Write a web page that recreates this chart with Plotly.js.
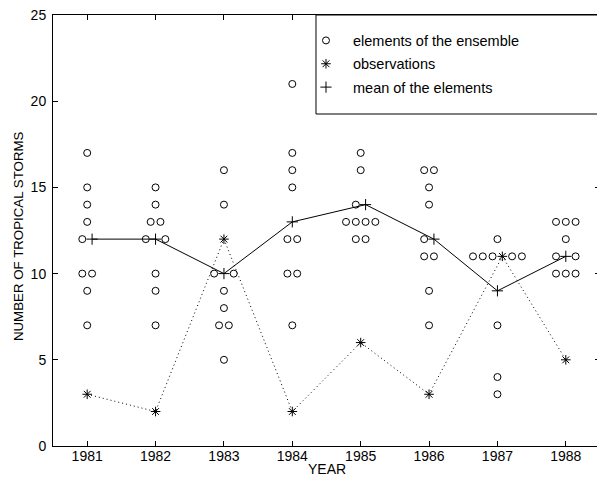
<!DOCTYPE html>
<html>
<head>
<meta charset="utf-8">
<script src="https://cdn.plot.ly/plotly-3.0.1.min.js"></script>
<style>
  html, body { margin: 0; padding: 0; overflow: hidden; background: #fff; }
  #chart { width: 601px; height: 478px; }
</style>
</head>
<body>
<div id="chart"></div>
<script>
// Seasonal tropical storm counts, 1981-1988: ensemble members, observed counts and ensemble mean
const years = [1981, 1982, 1983, 1984, 1985, 1986, 1987, 1988];

const members1981 = [17, 15, 14, 13, 12, 10, 10, 9, 7];
const members1982 = [15, 14, 13, 13, 12, 12, 10, 9, 7];
const members1983 = [16, 14, 10, 10, 9, 8, 7, 7, 5];
const members1984 = [21, 17, 16, 15, 12, 12, 10, 10, 7];
const members1985 = [17, 16, 14, 13, 13, 13, 13, 12, 12];
const members1986 = [16, 16, 15, 14, 12, 11, 11, 9, 7];
const members1987 = [12, 11, 11, 11, 11, 11, 7, 4, 3];
const members1988 = [13, 13, 13, 12, 11, 11, 10, 10, 10];

const observed = [3, 2, 12, 2, 6, 3, 11, 5];
const ensembleMean = [12, 12, 10, 13, 14, 12, 9, 11];

const yTicks = [0, 5, 10, 15, 20, 25];

// ---------------------------------------------------------------------------
// Symbols sharing the same count in the same year are set side by side,
// centred on the year; a mean or observation symbol takes the middle slot.
const members = [members1981, members1982, members1983, members1984,
                 members1985, members1986, members1987, members1988];
const SLOT = 0.143;   // horizontal spacing between neighbouring symbols (years)

const memX = [], memY = [];
const obsX = [], meanX = [];

years.forEach((yr, i) => {
  const levels = Array.from(new Set(members[i].concat([observed[i], ensembleMean[i]])));
  levels.forEach(v => {
    const nCirc = members[i].filter(m => m === v).length;
    const marks = [];
    if (ensembleMean[i] === v) marks.push('mean');
    if (observed[i] === v) marks.push('obs');
    const n = nCirc + marks.length;
    const slots = [];
    for (let k = 0; k < nCirc; k++) slots.push('member');
    slots.splice(Math.floor(n / 2), 0, ...marks);
    slots.forEach((kind, k) => {
      const x = yr + (k - (n - 1) / 2) * SLOT;
      if (kind === 'member') { memX.push(x); memY.push(v); }
      else if (kind === 'mean') meanX[i] = x;
      else obsX[i] = x;
    });
  });
});

const FONT = '"Liberation Sans", Arial, Helvetica, sans-serif';

const traces = [
  {
    x: memX, y: memY, mode: 'markers', type: 'scatter',
    name: 'elements of the ensemble', legendgroup: 'a',
    marker: { symbol: 'circle-open', size: 7, color: '#000', line: { width: 1, color: '#000' } },
    hoverinfo: 'skip'
  },
  {
    x: obsX, y: observed, mode: 'lines', type: 'scatter', showlegend: false,
    line: { color: '#000', width: 1, dash: '1px,3px' }, hoverinfo: 'skip'
  },
  {
    x: obsX, y: observed, mode: 'markers', type: 'scatter',
    name: 'observations', legendgroup: 'b',
    marker: { symbol: 'asterisk-open', size: 8, color: '#000', line: { width: 1, color: '#000' } },
    hoverinfo: 'skip'
  },
  {
    x: meanX, y: ensembleMean, mode: 'lines', type: 'scatter', showlegend: false,
    line: { color: '#000', width: 1 }, hoverinfo: 'skip'
  },
  {
    x: meanX, y: ensembleMean, mode: 'markers', type: 'scatter',
    name: 'mean of the elements', legendgroup: 'c',
    marker: { symbol: 'cross-thin-open', size: 8, color: '#000', line: { width: 1, color: '#000' } },
    hoverinfo: 'skip'
  }
];

const axisCommon = {
  showline: true, linecolor: '#000', linewidth: 1, mirror: 'ticks',
  ticks: 'inside', ticklen: 5, tickwidth: 1, tickcolor: '#000',
  showgrid: false, zeroline: false,
  tickfont: { family: FONT, size: 14, color: '#000' }
};

const layout = {
  width: 601, height: 478,
  margin: { l: 53, r: 1, t: 15, b: 32 },
  paper_bgcolor: '#fff', plot_bgcolor: '#fff',
  font: { family: FONT, color: '#000' },
  showlegend: true,
  xaxis: Object.assign({}, axisCommon, {
    range: [1980.5, 1988.5], tickmode: 'array', tickvals: years,
    ticktext: years.map(String), ticklabelstandoff: -3
  }),
  yaxis: Object.assign({}, axisCommon, {
    range: [0, 25], tickmode: 'array', tickvals: yTicks,
    ticktext: yTicks.map(String), ticklabelstandoff: 3
  }),
  legend: {
    x: 0.4497, y: 0.978, xanchor: 'left', yanchor: 'top',
    bgcolor: 'rgba(0,0,0,0)', borderwidth: 0,
    itemwidth: 44, tracegroupgap: 1.5,
    font: { family: FONT, size: 14.5, color: '#000' }
  },
  shapes: [{
    type: 'rect', xref: 'paper', yref: 'paper',
    x0: 0.4808, x1: 1.05, y0: 0.7703, y1: 1,
    line: { color: '#000', width: 1 }, fillcolor: '#fff', layer: 'above'
  }],
  annotations: [
    {
      text: 'NUMBER OF TROPICAL STORMS', xref: 'paper', yref: 'paper',
      x: -0.064, y: 0.487, xanchor: 'center', yanchor: 'middle',
      textangle: -90, showarrow: false, font: { family: FONT, size: 13.3, color: '#000' }
    },
    {
      text: 'YEAR', xref: 'paper', yref: 'paper',
      x: 0.501, y: -0.053, xanchor: 'center', yanchor: 'middle',
      showarrow: false, font: { family: FONT, size: 14, color: '#000' }
    }
  ]
};

Plotly.newPlot('chart', traces, layout, { staticPlot: true, displayModeBar: false });
</script>
</body>
</html>
